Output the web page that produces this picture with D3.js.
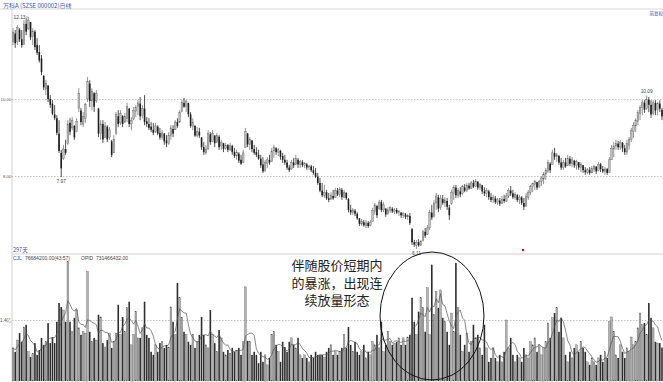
<!DOCTYPE html>
<html><head><meta charset="utf-8">
<script src="https://cdn.jsdelivr.net/npm/d3@7"></script>
<style>html,body{margin:0;padding:0;background:#fff;overflow:hidden}</style>
</head><body><svg id="c" width="663" height="382"></svg>
<script>
const title = "万科A (SZSE 000002)日线";
const adjustLabel = "前复权";
const daysLabel = "297天";
const indicatorName = "CJL";
const indicatorExtra = "(43:57)";
const indicatorName2 = "OPID";
const indicatorValue2 = "731466432.00";
const priceTicks = [8, 10];
const volumeTicks = [140];            // millions of shares -> 1.4亿
const noteLines = ["伴随股价短期内", "的暴涨，出现连", "续放量形态"];
const markedHighs = [7, 289];
const markedLows = [22, 184];

const open = [
11.50,11.70,11.48,11.80,11.55,11.42,11.95,11.82,12.00,11.62,
11.75,11.40,11.22,11.05,10.60,10.25,10.35,10.00,9.88,9.60,
9.50,9.10,8.60,8.45,8.70,8.85,9.38,9.25,9.30,9.15,
9.75,9.70,9.35,9.50,10.00,10.40,9.95,10.15,9.95,9.75,
9.10,9.35,9.00,9.28,9.00,8.90,8.60,9.10,9.55,9.38,
9.55,9.40,9.50,9.75,9.35,9.48,9.68,9.80,9.88,9.58,
9.75,9.42,9.35,9.28,9.20,9.15,9.28,9.12,9.00,9.10,
8.92,8.85,9.05,9.22,9.20,9.40,9.40,9.68,9.90,9.80,
9.90,9.60,9.28,9.30,9.05,9.15,9.00,8.75,8.60,8.70,
9.08,8.90,9.05,8.88,9.02,8.78,8.85,8.72,8.80,8.68,
8.78,8.62,8.52,8.58,8.42,8.35,8.75,9.10,8.82,8.92,
8.70,8.62,8.55,8.45,8.30,8.15,8.32,8.42,8.38,8.65,
8.72,8.62,8.65,8.52,8.42,8.35,8.22,8.18,8.35,8.30,
8.42,8.30,8.36,8.28,8.30,8.22,8.25,8.15,8.08,7.98,
7.82,7.62,7.50,7.58,7.42,7.40,7.48,7.45,7.62,7.52,
7.64,7.45,7.56,7.40,7.12,7.05,7.10,7.02,6.90,6.75,
6.80,6.72,6.78,6.72,6.82,7.08,7.22,7.15,7.32,7.12,
7.15,7.02,7.10,7.15,7.08,7.12,7.05,7.05,6.98,7.00,
6.94,6.96,6.62,6.28,6.20,6.28,6.20,6.32,6.55,6.48,
6.65,7.05,6.95,7.30,7.45,7.18,7.40,7.30,7.35,7.18,
7.28,7.55,7.70,7.50,7.60,7.55,7.70,7.62,7.75,7.68,
7.82,7.72,7.85,7.70,7.76,7.60,7.55,7.60,7.45,7.38,
7.42,7.32,7.36,7.28,7.40,7.35,7.48,7.62,7.55,7.45,
7.50,7.38,7.44,7.30,7.22,7.45,7.58,7.72,7.78,7.84,
7.72,7.85,7.92,8.05,8.12,8.32,8.30,8.60,8.50,8.52,
8.35,8.22,8.35,8.28,8.45,8.32,8.40,8.28,8.36,8.22,
8.28,8.15,8.10,8.16,8.08,8.18,8.24,8.14,8.30,8.18,
8.12,8.18,8.10,8.42,8.70,8.78,8.84,8.75,8.86,8.72,
8.62,8.80,8.95,9.15,9.30,9.42,9.62,9.78,9.90,9.75,
9.98,9.85,9.62,9.90,9.72,9.88,9.72];

const high = [
11.84,11.79,11.92,11.84,11.79,12.05,12.10,12.13,12.00,11.84,
11.79,11.58,11.40,11.14,10.62,10.49,10.36,10.10,9.97,9.84,
9.58,9.45,8.68,8.81,8.94,9.45,9.50,9.53,9.32,9.50,
10.28,9.77,9.66,9.90,10.57,10.49,10.28,10.18,10.23,9.77,
9.45,9.45,9.40,9.32,9.27,8.94,9.06,9.66,9.71,9.71,
9.58,9.64,9.90,9.77,9.53,9.79,9.84,9.97,10.05,9.84,
10.10,9.53,9.50,9.40,9.38,9.38,9.32,9.25,9.19,9.12,
9.06,9.14,9.32,9.32,9.45,9.50,9.71,9.97,10.03,9.97,
9.90,9.66,9.50,9.32,9.27,9.25,9.01,8.88,8.81,9.19,
9.14,9.19,9.06,9.12,9.06,8.94,8.86,8.86,8.83,8.86,
8.81,8.73,8.68,8.62,8.55,8.68,9.25,9.12,9.01,8.94,
8.81,8.75,8.68,8.55,8.49,8.42,8.49,8.55,8.73,8.81,
8.75,8.73,8.68,8.60,8.55,8.42,8.29,8.42,8.47,8.55,
8.47,8.42,8.42,8.36,8.34,8.29,8.29,8.26,8.21,8.08,
7.95,7.82,7.77,7.64,7.56,7.58,7.64,7.69,7.69,7.71,
7.69,7.64,7.58,7.43,7.25,7.17,7.14,7.06,6.91,6.88,
6.86,6.86,6.83,6.86,7.17,7.30,7.25,7.38,7.38,7.32,
7.17,7.19,7.22,7.19,7.17,7.17,7.12,7.06,7.06,7.04,
7.01,7.04,6.65,6.34,6.34,6.36,6.34,6.60,6.65,6.73,
7.12,7.25,7.38,7.56,7.51,7.51,7.51,7.45,7.43,7.25,
7.64,7.77,7.77,7.69,7.71,7.77,7.79,7.82,7.82,7.87,
7.90,7.92,7.87,7.82,7.77,7.71,7.69,7.64,7.56,7.51,
7.48,7.43,7.43,7.48,7.51,7.56,7.69,7.74,7.64,7.58,
7.53,7.51,7.48,7.43,7.56,7.64,7.77,7.82,7.90,7.85,
7.90,8.00,8.10,8.21,8.42,8.36,8.68,8.73,8.60,8.55,
8.47,8.42,8.47,8.55,8.52,8.49,8.42,8.42,8.36,8.36,
8.29,8.23,8.21,8.23,8.26,8.29,8.26,8.36,8.34,8.26,
8.23,8.21,8.49,8.81,8.88,8.94,8.91,8.94,8.88,8.81,
8.94,9.01,9.25,9.40,9.50,9.71,9.84,9.97,9.97,10.09,
10.05,9.97,9.97,9.97,9.92,9.97,9.77];

const low = [
11.40,11.33,11.40,11.48,11.33,11.40,11.66,11.79,11.53,11.40,
11.27,11.14,10.95,10.62,10.23,10.10,9.92,9.77,9.58,9.45,
9.06,8.60,7.97,8.42,8.55,8.81,9.06,9.19,8.94,9.14,
9.66,9.32,9.27,9.38,9.92,9.79,9.71,9.66,9.90,9.01,
8.94,8.86,8.99,8.88,8.94,8.49,8.68,9.06,9.27,9.32,
9.27,9.38,9.40,9.27,9.19,9.45,9.53,9.58,9.45,9.50,
9.32,9.27,9.19,9.14,9.06,9.12,9.06,8.94,8.94,8.81,
8.75,8.81,8.94,9.01,9.19,9.25,9.38,9.66,9.77,9.66,
9.53,9.25,9.19,9.01,9.01,8.99,8.68,8.55,8.55,8.68,
8.81,8.88,8.75,8.86,8.68,8.68,8.62,8.68,8.62,8.65,
8.55,8.47,8.42,8.34,8.29,8.34,8.73,8.75,8.68,8.62,
8.55,8.49,8.42,8.21,8.08,8.10,8.21,8.29,8.36,8.47,
8.55,8.52,8.42,8.34,8.29,8.16,8.10,8.16,8.21,8.29,
8.21,8.21,8.23,8.21,8.16,8.16,8.10,8.03,7.95,7.77,
7.58,7.45,7.43,7.38,7.32,7.38,7.38,7.43,7.48,7.45,
7.38,7.43,7.38,7.06,6.99,6.99,6.96,6.86,6.70,6.70,
6.68,6.65,6.65,6.70,6.81,6.99,6.91,7.12,7.06,7.06,
6.94,6.99,7.04,7.04,7.01,7.01,6.96,6.91,6.91,6.88,
6.86,6.73,6.21,6.16,6.11,6.16,6.18,6.30,6.39,6.47,
6.60,6.86,6.92,7.12,7.06,7.12,7.25,7.19,7.12,6.86,
7.25,7.38,7.43,7.43,7.45,7.51,7.58,7.58,7.64,7.66,
7.69,7.71,7.64,7.64,7.53,7.48,7.45,7.38,7.32,7.30,
7.27,7.25,7.22,7.27,7.30,7.32,7.43,7.48,7.40,7.38,
7.32,7.27,7.25,7.12,7.20,7.38,7.51,7.58,7.64,7.64,
7.69,7.74,7.79,7.90,8.08,8.08,8.29,8.42,8.36,8.29,
8.16,8.16,8.21,8.26,8.26,8.23,8.21,8.16,8.16,8.10,
8.08,8.03,8.05,8.03,8.08,8.10,8.05,8.12,8.10,8.08,
8.03,8.03,8.08,8.42,8.49,8.68,8.68,8.68,8.62,8.55,
8.55,8.68,8.88,8.99,9.14,9.32,9.45,9.58,9.64,9.71,
9.66,9.51,9.58,9.58,9.58,9.66,9.45];

const close = [
11.72,11.45,11.85,11.55,11.40,11.95,11.75,12.05,11.60,11.75,
11.35,11.20,11.00,10.70,10.30,10.40,10.00,9.85,9.62,9.50,
9.12,8.65,8.20,8.70,8.60,9.35,9.15,9.45,9.00,9.42,
10.15,9.40,9.55,9.85,10.45,9.95,10.20,9.80,10.15,9.10,
9.35,8.95,9.30,8.95,9.20,8.55,8.95,9.60,9.35,9.62,
9.35,9.55,9.80,9.35,9.45,9.70,9.78,9.90,9.55,9.75,
9.40,9.35,9.25,9.20,9.12,9.30,9.10,9.00,9.12,8.90,
8.85,9.05,9.25,9.10,9.40,9.30,9.65,9.92,9.80,9.95,
9.60,9.30,9.40,9.05,9.15,9.05,8.75,8.62,8.70,9.10,
8.88,9.10,8.85,9.05,8.75,8.88,8.70,8.80,8.68,8.80,
8.62,8.52,8.62,8.40,8.32,8.60,9.15,8.82,8.95,8.70,
8.60,8.55,8.45,8.28,8.12,8.35,8.42,8.35,8.65,8.75,
8.62,8.68,8.50,8.42,8.35,8.22,8.15,8.35,8.28,8.45,
8.30,8.38,8.28,8.32,8.22,8.26,8.15,8.08,7.98,7.82,
7.62,7.50,7.58,7.42,7.38,7.50,7.42,7.62,7.52,7.66,
7.45,7.58,7.42,7.12,7.05,7.12,7.02,6.90,6.76,6.82,
6.72,6.78,6.70,6.80,7.10,7.25,6.98,7.32,7.12,7.25,
7.00,7.12,7.18,7.08,7.12,7.05,7.08,6.98,7.02,6.94,
6.98,6.78,6.28,6.22,6.28,6.20,6.30,6.55,6.45,6.65,
7.05,6.92,7.30,7.48,7.15,7.42,7.30,7.38,7.20,6.98,
7.58,7.70,7.50,7.62,7.52,7.72,7.62,7.75,7.68,7.82,
7.72,7.86,7.70,7.78,7.60,7.55,7.62,7.45,7.38,7.45,
7.32,7.38,7.28,7.40,7.35,7.48,7.62,7.55,7.45,7.52,
7.38,7.45,7.30,7.20,7.48,7.58,7.72,7.80,7.85,7.70,
7.85,7.95,8.05,8.15,8.35,8.15,8.60,8.50,8.55,8.35,
8.22,8.35,8.25,8.45,8.32,8.42,8.28,8.38,8.22,8.30,
8.15,8.10,8.16,8.08,8.20,8.24,8.12,8.30,8.18,8.12,
8.18,8.08,8.42,8.72,8.78,8.85,8.75,8.88,8.72,8.62,
8.85,8.95,9.18,9.32,9.45,9.65,9.78,9.92,9.72,9.98,
9.85,9.60,9.90,9.70,9.88,9.75,9.55];

// volume, millions of shares
const volume = [
76,67,94,110,90,124,129,67,55,64,
87,60,71,99,83,90,133,87,101,87,
136,179,170,163,136,274,136,113,145,163,
122,106,113,110,251,113,90,99,94,152,
147,87,78,94,110,76,90,110,175,106,
147,113,168,182,83,106,159,99,99,122,
182,106,99,67,60,83,67,87,90,76,
83,78,170,136,106,225,191,145,113,106,
90,83,106,76,90,106,147,106,83,76,
163,106,87,67,117,99,67,60,71,64,
76,67,71,76,60,90,216,92,90,60,
67,60,41,67,44,60,37,53,106,113,
83,67,44,90,78,67,90,99,83,76,
99,60,53,60,53,44,60,53,67,60,
60,60,55,67,76,83,60,67,60,67,
76,106,76,124,83,67,90,67,60,67,
83,53,67,60,90,83,106,76,136,67,
83,113,90,83,87,90,99,83,99,83,
101,106,191,136,106,159,191,168,113,214,
106,267,152,205,168,209,145,136,113,83,
156,113,271,168,106,67,83,110,67,90,
129,99,106,76,60,129,76,44,53,76,
53,44,60,44,67,140,76,99,60,44,
60,53,44,76,60,53,90,83,99,67,
83,60,76,90,133,99,145,156,168,113,
145,99,60,44,67,53,76,83,67,90,
76,67,44,37,53,44,37,53,60,44,
67,53,136,147,113,60,53,83,67,53,
76,67,101,83,90,122,156,129,133,106,
179,145,122,90,87,87,76.6842];

const N = close.length;
const svg = d3.select("#c");
const FONT = "Arial, 'Liberation Sans', sans-serif";
const CJK = "'Noto Sans CJK SC', sans-serif";

const x = d3.scaleLinear().domain([0, N - 1]).range([13, 662]);
const yP = d3.scaleLinear().domain([8, 10]).range([176, 99]);
const yV = d3.scaleLinear().domain([0, 140]).range([381, 320]);

svg.append("rect").attr("width", 663).attr("height", 382).attr("fill", "#fff");

// header
svg.append("text").attr("x", 3).attr("y", 7.5).attr("font-size", 6).attr("font-family", CJK)
  .attr("fill", "#3b4fa8").text(title);
svg.append("line").attr("x1", 0).attr("x2", 663).attr("y1", 9).attr("y2", 9).attr("stroke", "#d8d8d8");
svg.append("text").attr("x", 663).attr("y", 15).attr("text-anchor", "end").attr("font-size", 4.5)
  .attr("font-family", CJK).attr("fill", "#3b4fa8").text(adjustLabel);

// left vertical axis line
svg.append("line").attr("x1", 12).attr("x2", 12).attr("y1", 9).attr("y2", 382).attr("stroke", "#cfcfcf");

// price axis + grid
svg.append("g").attr("transform", "translate(12,0)")
  .call(d3.axisLeft(yP).tickValues(priceTicks).tickFormat(d3.format(".2f")).tickSize(-651).tickPadding(0.5))
  .call(g => {
    g.select(".domain").remove();
    g.selectAll("line").attr("stroke", "#c4c4c4").attr("stroke-dasharray", "1.5,1.5");
    g.selectAll("text").attr("font-size", 4.4).attr("fill", "#555").attr("font-family", FONT);
  });

// volume axis + grid
svg.append("g").attr("transform", "translate(12,0)")
  .call(d3.axisLeft(yV).tickValues(volumeTicks).tickFormat(d => (d / 100) + "亿").tickSize(-651).tickPadding(0.5))
  .call(g => {
    g.select(".domain").remove();
    g.selectAll("line").attr("stroke", "#c4c4c4").attr("stroke-dasharray", "1.5,1.5");
    g.selectAll("text").attr("font-size", 4.6).attr("fill", "#555").attr("font-family", FONT);
  });

// panel separator
svg.append("line").attr("x1", 12).attr("x2", 663).attr("y1", 254).attr("y2", 254).attr("stroke", "#cfcfcf");

const idx = d3.range(N);
const isUp = i => close[i] >= open[i];

// candles
const cg = svg.append("g");
cg.selectAll("line.w").data(idx).join("line")
  .attr("x1", i => x(i)).attr("x2", i => x(i))
  .attr("y1", i => yP(high[i])).attr("y2", i => yP(low[i]))
  .attr("stroke", i => isUp(i) ? "#777" : "#222").attr("stroke-width", 0.8);
cg.selectAll("rect").data(idx).join("rect")
  .attr("x", i => x(i) - 0.8).attr("width", 1.6)
  .attr("y", i => yP(Math.max(open[i], close[i])))
  .attr("height", i => Math.max(0.8, Math.abs(yP(open[i]) - yP(close[i]))))
  .attr("fill", i => isUp(i) ? "#bdbdbd" : "#1e1e1e")
  .attr("stroke", i => isUp(i) ? "#666" : "none").attr("stroke-width", 0.4);

// extreme labels
const lab = svg.append("g").attr("font-family", FONT).attr("font-size", 4.8).attr("fill", "#444");
markedLows.forEach(i => {
  lab.append("text").attr("x", x(i)).attr("y", yP(low[i]) + 6).attr("text-anchor", "middle")
    .text(d3.format(".2f")(low[i]));
});
markedHighs.forEach((i, k) => {
  if (k === 0) {
    lab.append("text").attr("x", 13.5).attr("y", yP(high[i]) + 1.6).text(d3.format(".2f")(high[i]));
    svg.append("line").attr("x1", 26).attr("x2", x(i)).attr("y1", yP(high[i])).attr("y2", yP(high[i]))
      .attr("stroke", "#666").attr("stroke-width", 0.6);
  } else {
    lab.append("text").attr("x", x(i)).attr("y", yP(high[i]) - 2.5).attr("text-anchor", "middle")
      .text(d3.format(".2f")(high[i]));
  }
});

// days label, indicator header
svg.append("text").attr("x", 13).attr("y", 252).attr("font-size", 5.5).attr("font-family", CJK)
  .attr("fill", "#3b4fa8").text(daysLabel);
const hdr = svg.append("text").attr("x", 13).attr("y", 260).attr("font-size", 5).attr("font-family", FONT);
hdr.append("tspan").attr("fill", "#3b4fa8").text(indicatorName);
hdr.append("tspan").attr("x", 25).attr("fill", "#444").text(d3.format(".2f")(volume[N - 1] * 1e6) + indicatorExtra);
hdr.append("tspan").attr("x", 81).attr("fill", "#444").text(indicatorName2);
hdr.append("tspan").attr("x", 96).attr("fill", "#444").text(indicatorValue2);

// red marker dot
svg.append("circle").attr("cx", 523).attr("cy", 250).attr("r", 1.2).attr("fill", "#cc1111");

// volume bars
svg.append("g").selectAll("rect").data(idx).join("rect")
  .attr("x", i => x(i) - 0.8).attr("width", 1.6)
  .attr("y", i => yV(volume[i])).attr("height", i => yV(0) - yV(volume[i]))
  .attr("fill", i => isUp(i) ? "#b4b4b4" : "#2e2e2e")
  .attr("stroke", i => isUp(i) ? "#4a4a4a" : "none").attr("stroke-width", 0.35);

// volume moving average (5 days)
const ma = idx.map(i => d3.mean(volume.slice(Math.max(0, i - 4), i + 1)));
svg.append("path").datum(idx)
  .attr("d", d3.line().x(i => x(i)).y(i => yV(ma[i])))
  .attr("fill", "none").attr("stroke", "#555").attr("stroke-width", 0.7);

// annotation ellipse and text
svg.append("ellipse").attr("cx", 432).attr("cy", 316).attr("rx", 52).attr("ry", 64)
  .attr("fill", "none").attr("stroke", "#111").attr("stroke-width", 1);
svg.append("g").selectAll("text").data(noteLines).join("text")
  .attr("x", 337).attr("y", (d, k) => 270 + k * 17.5).attr("text-anchor", "middle")
  .attr("font-size", 13).attr("font-family", CJK).attr("fill", "#222").text(d => d);
</script></body></html>
